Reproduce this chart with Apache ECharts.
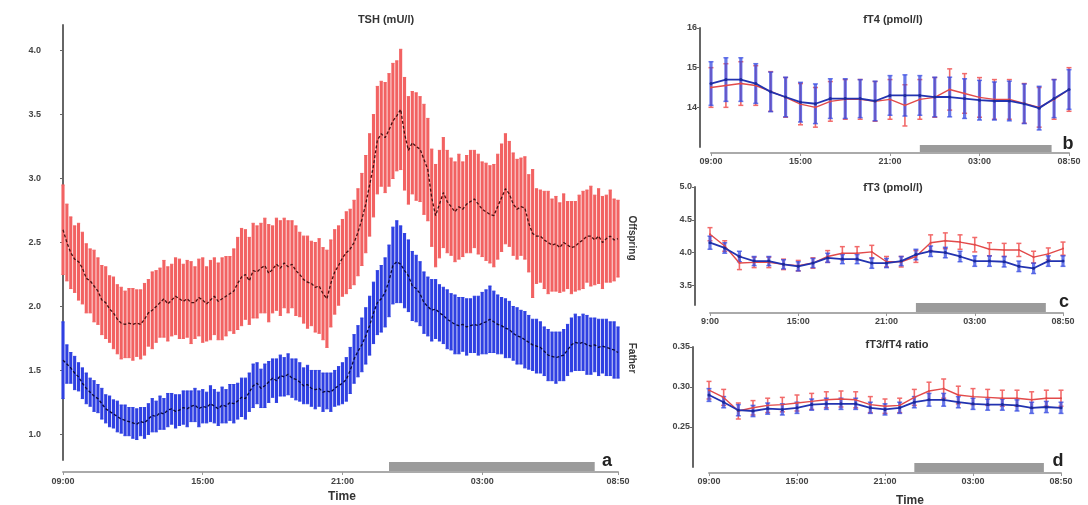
<!DOCTYPE html>
<html>
<head>
<meta charset="utf-8">
<script src="https://cdn.jsdelivr.net/npm/echarts@6/dist/echarts.min.js"></script>
<style>html,body{margin:0;padding:0;background:#fff}#c{width:1088px;height:505px}</style>
</head>
<body>
<div id="c"></div>
<script>
// ---------- DATA ----------
// TSH (mU/l), samples every 10 min from 09:00 to 08:50
const tshStepMin = 10;
const tshOffspring = [
2.60,2.50,2.42,2.37,2.35,2.30,2.22,2.20,2.16,2.12,
2.05,2.03,1.98,1.95,1.90,1.87,1.86,1.87,1.86,1.87,
1.86,1.90,1.95,1.97,2.00,2.03,2.06,2.02,2.05,2.08,
2.06,2.04,2.06,2.03,2.03,2.07,2.05,2.02,2.05,2.08,
2.04,2.06,2.08,2.10,2.12,2.18,2.23,2.25,2.20,2.28,
2.27,2.30,2.32,2.26,2.29,2.33,2.30,2.34,2.31,2.33,
2.28,2.25,2.21,2.19,2.18,2.15,2.16,2.10,2.06,2.18,
2.27,2.32,2.38,2.42,2.45,2.50,2.58,2.68,2.80,2.95,
3.10,3.30,3.35,3.32,3.38,3.45,3.49,3.54,3.35,3.22,
3.28,3.25,3.23,3.15,3.07,2.85,2.71,2.80,2.89,2.82,
2.78,2.74,2.78,2.76,2.80,2.82,2.84,2.80,2.76,2.74,
2.72,2.71,2.78,2.85,2.92,2.88,2.80,2.76,2.78,2.77,
2.65,2.57,2.55,2.55,2.52,2.50,2.48,2.49,2.46,2.50,
2.48,2.46,2.47,2.50,2.52,2.55,2.55,2.52,2.55,2.50,
2.53,2.55,2.52,2.53];
const tshOffspringSE = [
0.35,0.30,0.28,0.26,0.30,0.28,0.27,0.25,0.28,0.26,
0.27,0.28,0.26,0.28,0.27,0.28,0.26,0.27,0.28,0.26,
0.27,0.28,0.26,0.30,0.28,0.27,0.30,0.29,0.28,0.30,
0.31,0.29,0.30,0.32,0.28,0.30,0.33,0.29,0.31,0.30,
0.30,0.32,0.31,0.29,0.33,0.36,0.38,0.35,0.34,0.37,
0.36,0.35,0.37,0.38,0.34,0.36,0.37,0.35,0.36,0.34,
0.35,0.33,0.34,0.36,0.33,0.35,0.37,0.36,0.38,0.34,
0.33,0.31,0.30,0.32,0.31,0.33,0.34,0.36,0.38,0.40,
0.40,0.42,0.41,0.43,0.44,0.45,0.43,0.47,0.44,0.42,
0.40,0.42,0.41,0.43,0.40,0.38,0.40,0.42,0.43,0.40,
0.38,0.39,0.41,0.37,0.38,0.40,0.38,0.39,0.37,0.38,
0.38,0.40,0.41,0.42,0.43,0.41,0.40,0.39,0.38,0.40,
0.38,0.50,0.37,0.36,0.38,0.40,0.36,0.37,0.35,0.38,
0.34,0.36,0.35,0.37,0.38,0.36,0.39,0.35,0.37,0.36,
0.34,0.36,0.32,0.30];
const tshFather = [
1.58,1.55,1.52,1.48,1.45,1.40,1.36,1.33,1.30,1.28,
1.24,1.20,1.18,1.16,1.14,1.12,1.11,1.10,1.09,1.08,
1.10,1.09,1.12,1.15,1.14,1.17,1.16,1.19,1.20,1.18,
1.19,1.21,1.20,1.22,1.23,1.20,1.22,1.21,1.24,1.22,
1.20,1.23,1.22,1.25,1.24,1.26,1.29,1.28,1.33,1.38,
1.40,1.36,1.38,1.41,1.44,1.42,1.46,1.45,1.47,1.44,
1.43,1.41,1.38,1.39,1.36,1.35,1.36,1.33,1.34,1.33,
1.36,1.38,1.40,1.43,1.50,1.59,1.65,1.70,1.77,1.85,
1.95,2.03,2.06,2.11,2.20,2.32,2.35,2.33,2.28,2.24,
2.16,2.14,2.10,2.03,2.00,1.97,1.98,1.95,1.93,1.90,
1.88,1.86,1.85,1.86,1.84,1.85,1.86,1.85,1.87,1.88,
1.90,1.88,1.86,1.85,1.83,1.82,1.79,1.77,1.76,1.74,
1.72,1.70,1.69,1.68,1.65,1.62,1.61,1.60,1.61,1.62,
1.66,1.70,1.72,1.71,1.72,1.70,1.69,1.70,1.68,1.69,
1.68,1.67,1.66,1.64];
const tshFatherSE = [
0.30,0.15,0.12,0.13,0.11,0.12,0.12,0.11,0.12,0.11,
0.12,0.11,0.12,0.11,0.12,0.11,0.12,0.11,0.12,0.12,
0.11,0.12,0.12,0.13,0.12,0.13,0.12,0.13,0.12,0.13,
0.12,0.13,0.14,0.12,0.13,0.14,0.13,0.12,0.14,0.13,
0.13,0.14,0.13,0.14,0.15,0.14,0.15,0.16,0.15,0.17,
0.16,0.15,0.17,0.16,0.15,0.17,0.16,0.15,0.16,0.15,
0.16,0.15,0.14,0.15,0.14,0.15,0.14,0.15,0.14,0.15,
0.14,0.15,0.16,0.17,0.18,0.19,0.20,0.21,0.22,0.23,
0.24,0.25,0.26,0.27,0.28,0.30,0.32,0.30,0.29,0.28,
0.27,0.26,0.25,0.24,0.23,0.24,0.23,0.22,0.22,0.23,
0.22,0.23,0.22,0.21,0.22,0.21,0.22,0.23,0.24,0.25,
0.26,0.24,0.23,0.22,0.23,0.22,0.21,0.22,0.21,0.22,
0.21,0.20,0.21,0.20,0.19,0.20,0.19,0.20,0.19,0.20,
0.20,0.21,0.22,0.21,0.22,0.23,0.22,0.21,0.22,0.21,
0.22,0.21,0.22,0.20];
const tshTickValues = [0, 360, 720, 1080, 1430];
const tshTickLabels = ["09:00", "15:00", "21:00", "03:00", "08:50"];
const tshYTicks = [1.0, 1.5, 2.0, 2.5, 3.0, 3.5, 4.0];

// Hourly samples (right-hand panels)
const hours = ["09:00","10:00","11:00","12:00","13:00","14:00","15:00","16:00","17:00","18:00",
  "19:00","20:00","21:00","22:00","23:00","00:00","01:00","02:00","03:00","04:00",
  "05:00","06:00","07:00","08:00","08:50"];
const smallTickIdx = [0, 6, 12, 18, 24];
const fT4TickLabels = ["09:00", "15:00", "21:00", "03:00", "08:50"];
const fT3TickLabels = ["9:00", "15:00", "21:00", "03:00", "08:50"];
const ratioTickLabels = ["09:00", "15:00", "21:00", "03:00", "08:50"];

const fT4Offspring = [14.50,14.55,14.60,14.55,14.40,14.25,14.08,14.00,14.15,14.20,14.20,14.15,14.20,14.05,14.20,14.25,14.45,14.35,14.25,14.20,14.20,14.10,14.00,14.20,14.45];
const fT4OffspringSE = [0.50,0.55,0.55,0.50,0.50,0.50,0.52,0.50,0.50,0.50,0.50,0.50,0.50,0.52,0.50,0.50,0.52,0.50,0.50,0.50,0.50,0.50,0.50,0.50,0.55];
const fT4Father = [14.60,14.70,14.70,14.60,14.39,14.26,14.13,14.09,14.22,14.22,14.22,14.16,14.30,14.30,14.30,14.26,14.26,14.22,14.18,14.16,14.16,14.09,13.98,14.22,14.45];
const fT4FatherSE = [0.55,0.55,0.55,0.50,0.50,0.50,0.50,0.50,0.50,0.50,0.48,0.50,0.50,0.52,0.50,0.50,0.50,0.50,0.50,0.48,0.50,0.50,0.55,0.48,0.50];
const fT4YTicks = [14, 15, 16];

const fT3Offspring = [4.28,4.10,3.84,3.85,3.85,3.82,3.80,3.84,3.94,3.99,3.99,4.01,3.86,3.86,3.94,4.15,4.18,4.16,4.12,4.05,4.04,4.04,3.93,3.98,4.06];
const fT3OffspringSE = [0.10,0.08,0.10,0.08,0.08,0.08,0.08,0.08,0.09,0.10,0.10,0.10,0.08,0.08,0.09,0.12,0.12,0.11,0.11,0.10,0.10,0.10,0.09,0.09,0.10];
const fT3Father = [4.15,4.07,3.94,3.87,3.87,3.82,3.79,3.84,3.92,3.90,3.90,3.84,3.84,3.87,3.97,4.02,4.00,3.94,3.87,3.87,3.86,3.79,3.76,3.87,3.87];
const fT3FatherSE = [0.10,0.08,0.08,0.07,0.07,0.07,0.07,0.07,0.07,0.07,0.07,0.08,0.07,0.07,0.08,0.08,0.08,0.08,0.08,0.08,0.08,0.08,0.08,0.08,0.08];
const fT3YTicks = [3.5, 4.0, 4.5, 5.0];

const ratioOffspring = [0.296,0.287,0.270,0.274,0.277,0.278,0.280,0.282,0.284,0.285,0.284,0.278,0.276,0.277,0.287,0.295,0.298,0.290,0.288,0.287,0.286,0.286,0.284,0.286,0.286];
const ratioOffspringSE = [0.011,0.010,0.010,0.009,0.009,0.009,0.010,0.010,0.010,0.010,0.010,0.010,0.009,0.009,0.010,0.011,0.012,0.011,0.010,0.010,0.010,0.010,0.010,0.010,0.010];
const ratioFather = [0.290,0.281,0.271,0.270,0.273,0.272,0.274,0.278,0.279,0.279,0.279,0.274,0.272,0.274,0.281,0.284,0.284,0.281,0.279,0.278,0.278,0.277,0.274,0.275,0.274];
const ratioFatherSE = [0.008,0.007,0.007,0.007,0.007,0.007,0.007,0.007,0.007,0.007,0.007,0.007,0.007,0.007,0.007,0.008,0.008,0.007,0.007,0.007,0.007,0.007,0.007,0.007,0.007];
const ratioYTicks = [0.25, 0.30, 0.35];

// Sleep period (minutes after 09:00)
const sleepPeriodMin = [840, 1370];

// ---------- STYLE ----------
const RED = '#f26262';
const BLUE = '#2f40e2';
const FONT = 'Liberation Sans, Arial, sans-serif';
const GRAY_BAR = '#9b9b9b';

const chart = echarts.init(document.getElementById('c'), null, {renderer: 'canvas'});

function coordAt(api, x, y) {
  const f = Math.floor(x), c = Math.ceil(x);
  if (f === c) return api.coord([x, y]);
  const a = api.coord([f, y]), b = api.coord([c, y]);
  const t = x - f;
  return [a[0] + (b[0] - a[0]) * t, a[1] + (b[1] - a[1]) * t];
}

function errRender(color, width, cap, capWidth) {
  return function (params, api) {
    const x = api.value(0), lo = api.value(1), hi = api.value(2);
    const p1 = api.coord([x, hi]), p2 = api.coord([x, lo]);
    return {
      type: 'group',
      children: [
        {type: 'line', shape: {x1: p1[0], y1: p1[1], x2: p2[0], y2: p2[1]}, style: {stroke: color, lineWidth: width}},
        {type: 'line', shape: {x1: p1[0] - cap, y1: p1[1], x2: p1[0] + cap, y2: p1[1]}, style: {stroke: color, lineWidth: capWidth}},
        {type: 'line', shape: {x1: p2[0] - cap, y1: p2[1], x2: p2[0] + cap, y2: p2[1]}, style: {stroke: color, lineWidth: capWidth}}
      ]
    };
  };
}

function sleepSeries(idx, start, end, yMin, xOff, h) {
  return {
    type: 'custom', xAxisIndex: idx, yAxisIndex: idx, silent: true, clip: false, z: 1,
    data: [[start, yMin]],
    renderItem: function (params, api) {
      const p0 = coordAt(api, start, yMin), p1 = coordAt(api, end, yMin);
      return {type: 'rect', shape: {x: p0[0], y: p0[1] + xOff - 1 - h, width: p1[0] - p0[0], height: h}, style: {fill: GRAY_BAR}};
    }
  };
}

function errData(xs, m, se) { return m.map((v, i) => [xs[i], v - se[i], v + se[i]]); }

const tshX = tshOffspring.map((_, i) => i * tshStepMin);
const hourIdx = hours.map((_, i) => i);

const labelStyle = {fontFamily: FONT, fontSize: 9, fontWeight: 'bold', color: '#444'};

function yAxisDef(idx, min, max, ticks, dec, offset) {
  return {
    type: 'value', gridIndex: idx, min: min, max: max, offset: offset,
    splitLine: {show: false},
    axisLine: {show: true, lineStyle: {color: '#666', width: 2}},
    axisTick: {show: true, length: 3, customValues: ticks, lineStyle: {color: '#666', width: 1}},
    axisLabel: Object.assign({customValues: ticks, margin: 3, formatter: v => v.toFixed(dec)}, labelStyle)
  };
}

function smallXAxis(idx, labels, offset) {
  return {
    type: 'category', gridIndex: idx, data: hours, boundaryGap: false, offset: offset,
    axisLine: {show: true, lineStyle: {color: '#aaa', width: 2}},
    axisTick: {show: true, length: 3, interval: i => smallTickIdx.includes(i), lineStyle: {color: '#999'}},
    axisLabel: Object.assign({
      interval: i => smallTickIdx.includes(i), margin: 4,
      formatter: (v, i) => labels[smallTickIdx.indexOf(i)]
    }, labelStyle),
    splitLine: {show: false}
  };
}

function smallSeries(idx, off, offSE, fa, faSE) {
  return [
    {type: 'custom', xAxisIndex: idx, yAxisIndex: idx, data: errData(hourIdx, off, offSE), renderItem: errRender('#f26a6a', 1.6, 2.5, 1.5), z: 2, silent: true},
    {type: 'custom', xAxisIndex: idx, yAxisIndex: idx, data: errData(hourIdx, fa, faSE), renderItem: errRender('rgba(55,75,225,0.75)', 3.2, 2.5, 1.5), z: 3, silent: true},
    {type: 'line', xAxisIndex: idx, yAxisIndex: idx, data: off, symbol: 'circle', symbolSize: 2, lineStyle: {color: '#e24a4a', width: 1.4}, itemStyle: {color: '#e24a4a'}, z: 4, silent: true},
    {type: 'line', xAxisIndex: idx, yAxisIndex: idx, data: fa, symbol: 'circle', symbolSize: 3, lineStyle: {color: '#2233b0', width: 1.8}, itemStyle: {color: '#1a2a9a'}, z: 5, silent: true}
  ];
}

function txt(x, y, s, size, extra) {
  return {type: 'text', x: x, y: y, style: Object.assign({text: s, fontFamily: FONT, fontSize: size, fontWeight: 'bold', fill: '#333', align: 'center', verticalAlign: 'middle'}, extra || {})};
}

const option = {
  animation: false,
  backgroundColor: '#fff',
  grid: [
    {left: 63, top: 25, width: 555, height: 435},
    {left: 711, top: 28, width: 358, height: 119},
    {left: 710, top: 187, width: 353, height: 118},
    {left: 709, top: 347, width: 352, height: 120}
  ],
  xAxis: [
    {
      type: 'value', gridIndex: 0, min: 0, max: 1430, offset: 12,
      axisLine: {show: true, lineStyle: {color: '#aaa', width: 2}},
      axisTick: {show: true, length: 3, customValues: tshTickValues, lineStyle: {color: '#999'}},
      axisLabel: Object.assign({customValues: tshTickValues, margin: 5, formatter: v => tshTickLabels[tshTickValues.indexOf(v)]}, labelStyle),
      splitLine: {show: false}
    },
    smallXAxis(1, fT4TickLabels, 6),
    smallXAxis(2, fT3TickLabels, 8),
    smallXAxis(3, ratioTickLabels, 6)
  ],
  yAxis: [
    yAxisDef(0, 0.8, 4.2, tshYTicks, 1, 19),
    yAxisDef(1, 13, 16, fT4YTicks, 0, 11),
    yAxisDef(2, 3.2, 5.0, fT3YTicks, 1, 15),
    yAxisDef(3, 0.2, 0.35, ratioYTicks, 2, 16)
  ],
  series: [
    sleepSeries(0, sleepPeriodMin[0], sleepPeriodMin[1], 0.8, 12, 9),
    sleepSeries(1, sleepPeriodMin[0] / 60, sleepPeriodMin[1] / 60, 13, 6, 7),
    sleepSeries(2, sleepPeriodMin[0] / 60, sleepPeriodMin[1] / 60, 3.2, 8, 9),
    sleepSeries(3, sleepPeriodMin[0] / 60, sleepPeriodMin[1] / 60, 0.2, 6, 9),
    {type: 'custom', xAxisIndex: 0, yAxisIndex: 0, data: errData(tshX, tshOffspring, tshOffspringSE), renderItem: errRender(RED, 3.1, 1.6, 1), z: 2, silent: true},
    {type: 'custom', xAxisIndex: 0, yAxisIndex: 0, data: errData(tshX, tshFather, tshFatherSE), renderItem: errRender(BLUE, 3.1, 1.6, 1), z: 2, silent: true},
    {type: 'line', xAxisIndex: 0, yAxisIndex: 0, data: tshX.map((x, i) => [x, tshOffspring[i]]), symbol: 'none', lineStyle: {color: '#4a1010', width: 1.3, type: [3, 2]}, z: 4, silent: true},
    {type: 'line', xAxisIndex: 0, yAxisIndex: 0, data: tshX.map((x, i) => [x, tshFather[i]]), symbol: 'none', lineStyle: {color: '#0a0a3a', width: 1.3, type: [3, 2]}, z: 4, silent: true}
  ].concat(
    smallSeries(1, fT4Offspring, fT4OffspringSE, fT4Father, fT4FatherSE),
    smallSeries(2, fT3Offspring, fT3OffspringSE, fT3Father, fT3FatherSE),
    smallSeries(3, ratioOffspring, ratioOffspringSE, ratioFather, ratioFatherSE)
  ),
  graphic: [
    txt(386, 20, 'TSH (mU/l)', 11),
    txt(893, 20, 'fT4 (pmol/l)', 11),
    txt(893, 188, 'fT3 (pmol/l)', 11),
    txt(897, 345, 'fT3/fT4 ratio', 11),
    txt(342, 497, 'Time', 12),
    txt(910, 501, 'Time', 12),
    txt(607, 461, 'a', 18, {fill: '#222'}),
    txt(1068, 144, 'b', 18, {fill: '#222'}),
    txt(1064, 302, 'c', 18, {fill: '#222'}),
    txt(1058, 461, 'd', 18, {fill: '#222'}),
    Object.assign(txt(632, 238, 'Offspring', 10), {rotation: -Math.PI / 2}),
    Object.assign(txt(632, 358, 'Father', 10), {rotation: -Math.PI / 2})
  ]
};
chart.setOption(option);
</script>
</body>
</html>
